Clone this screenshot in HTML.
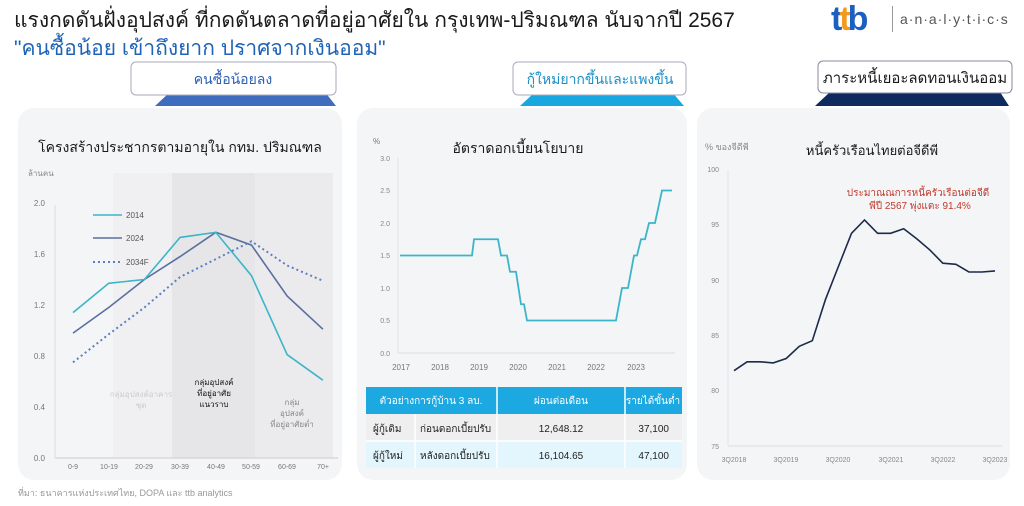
<!DOCTYPE html>
<html><head><meta charset="utf-8"><style>
body{margin:0;width:1024px;height:506px;background:#fff;overflow:hidden}
svg{display:block;font-family:"Liberation Sans","Noto Sans CJK SC",sans-serif}
</style></head><body>
<svg width="1024" height="506" viewBox="0 0 1024 506" xmlns="http://www.w3.org/2000/svg">
<!-- header -->
<text x="14" y="27" font-size="21" fill="#1a1a1a">แรงกดดันฝั่งอุปสงค์ ที่กดดันตลาดที่อยู่อาศัยใน กรุงเทพ-ปริมณฑล นับจากปี 2567</text>
<text x="14" y="55" font-size="21" fill="#1f63b8">"คนซื้อน้อย เข้าถึงยาก ปราศจากเงินออม"</text>
<text x="831" y="30" font-size="34" font-weight="bold" fill="#1b5fc0" letter-spacing="-3">t<tspan fill="#f39a1e">t</tspan>b</text>
<rect x="892" y="6" width="1" height="26" fill="#999"/>
<text x="900" y="24" font-size="14" fill="#555" letter-spacing="1">a·n·a·l·y·t·i·c·s</text>

<!-- cards -->
<rect x="18" y="108" width="324" height="372" rx="16" fill="#f4f5f7"/>
<rect x="357" y="108" width="330" height="372" rx="16" fill="#f4f5f7"/>
<rect x="697" y="108" width="313" height="372" rx="16" fill="#f4f5f7"/>

<!-- tabs -->
<polygon points="170,92 325,92 336,106 155,106" fill="#3f6cbf"/>
<rect x="131" y="62" width="205" height="33" rx="5" fill="#fff" stroke="#aab" />
<text x="233" y="84" font-size="14" fill="#2b5eb5" text-anchor="middle">คนซื้อน้อยลง</text>
<polygon points="535,92 672,92 684,106 520,106" fill="#19a7e0"/>
<rect x="513" y="62" width="173" height="33" rx="5" fill="#fff" stroke="#aab"/>
<text x="600" y="84" font-size="14" fill="#1a8fc8" text-anchor="middle">กู้ใหม่ยากขึ้นและแพงขึ้น</text>
<polygon points="830,92 1000,92 1009,106 815,106" fill="#0e2a5e"/>
<rect x="818" y="61" width="194" height="32" rx="5" fill="#fff" stroke="#889"/>
<text x="915" y="83" font-size="15" fill="#1a1a1a" text-anchor="middle">ภาระหนี้เยอะลดทอนเงินออม</text>

<!-- panel 1 -->
<text x="180" y="152" font-size="14" fill="#1a1a1a" text-anchor="middle">โครงสร้างประชากรตามอายุใน กทม. ปริมณฑล</text>
<text x="28" y="176" font-size="8" fill="#888">ล้านคน</text>
<rect x="113" y="173" width="59" height="285" fill="#f0f0f2"/>
<rect x="172" y="173" width="83" height="285" fill="#e6e6e8"/>
<rect x="255" y="173" width="78" height="285" fill="#ebebed"/>
<line x1="55" y1="458" x2="338" y2="458" stroke="#ccc"/>
<line x1="55" y1="205" x2="55" y2="458" stroke="#ddd"/>
<g font-size="8" fill="#777" text-anchor="end">
<text x="45" y="206">2.0</text><text x="45" y="257">1.6</text><text x="45" y="308">1.2</text><text x="45" y="359">0.8</text><text x="45" y="410">0.4</text><text x="45" y="461">0.0</text></g>
<g font-size="7" fill="#777" text-anchor="middle">
<text x="73" y="469">0-9</text><text x="109" y="469">10-19</text><text x="144" y="469">20-29</text><text x="180" y="469">30-39</text><text x="216" y="469">40-49</text><text x="251" y="469">50-59</text><text x="287" y="469">60-69</text><text x="323" y="469">70+</text></g>
<text x="141" y="397" font-size="8" fill="#ccc" text-anchor="middle">กลุ่มอุปสงค์อาคาร</text>
<text x="141" y="408" font-size="8" fill="#ccc" text-anchor="middle">ชุด</text>
<g font-size="8" fill="#111" text-anchor="middle"><text x="214" y="385">กลุ่มอุปสงค์</text><text x="214" y="396">ที่อยู่อาศัย</text><text x="214" y="407">แนวราบ</text></g>
<g font-size="8" fill="#888" text-anchor="middle"><text x="292" y="405">กลุ่ม</text><text x="292" y="416">อุปสงค์</text><text x="292" y="427">ที่อยู่อาศัยต่ำ</text></g>
<polyline fill="none" stroke="#5a6fa0" stroke-width="1.6" points="73,333.1 108.7,307.5 144.4,279.5 180.1,256.6 215.8,232.3 251.5,245.1 287.2,296.1 322.9,329.2"/>
<polyline fill="none" stroke="#3bb5c8" stroke-width="1.6" points="73,312.6 108.7,283.3 144.4,279.5 180.1,237.4 215.8,232.3 251.5,275.7 287.2,354.7 322.9,380.2"/>
<polyline fill="none" stroke="#5b7fc0" stroke-width="2" stroke-dasharray="2,3" points="73,362.4 108.7,334.3 144.4,307.5 180.1,277 215.8,259.1 251.5,241.3 287.2,265.5 322.9,280.8"/>
<line x1="93" y1="215" x2="122" y2="215" stroke="#3bb5c8" stroke-width="1.6"/><text x="126" y="218" font-size="8" fill="#555">2014</text>
<line x1="93" y1="238" x2="122" y2="238" stroke="#5a6fa0" stroke-width="1.6"/><text x="126" y="241" font-size="8" fill="#555">2024</text>
<line x1="93" y1="262" x2="122" y2="262" stroke="#5b7fc0" stroke-width="2" stroke-dasharray="2,3"/><text x="126" y="265" font-size="8" fill="#555">2034F</text>

<!-- panel 2 -->
<text x="373" y="144" font-size="8" fill="#777">%</text>
<text x="518" y="153" font-size="14" fill="#1a1a1a" text-anchor="middle">อัตราดอกเบี้ยนโยบาย</text>
<line x1="398" y1="353" x2="675" y2="353" stroke="#ddd"/>
<line x1="398" y1="158" x2="398" y2="353" stroke="#e4e4e4"/>
<g font-size="7" fill="#888" text-anchor="end"><text x="390" y="161">3.0</text><text x="390" y="193">2.5</text><text x="390" y="226">2.0</text><text x="390" y="258">1.5</text><text x="390" y="291">1.0</text><text x="390" y="323">0.5</text><text x="390" y="356">0.0</text></g>
<g font-size="8" fill="#777" text-anchor="middle"><text x="401" y="370">2017</text><text x="440" y="370">2018</text><text x="479" y="370">2019</text><text x="518" y="370">2020</text><text x="557" y="370">2021</text><text x="596" y="370">2022</text><text x="636" y="370">2023</text></g>
<polyline fill="none" stroke="#3bb5c8" stroke-width="1.8" points="400,255.5 472,255.5 474,239.25 498,239.25 501,255.5 507,255.5 510,271.75 516,271.75 521,304.25 524,304.25 527,320.5 616,320.5 622,288 628,288 634,255.5 637,255.5 641,239.25 645,239.25 649,223 655,223 662,190.5 672,190.5"/>
<rect x="366" y="387" width="316" height="27" fill="#1ca9e1"/>
<rect x="366" y="414" width="316" height="27" fill="#efefef"/>
<rect x="366" y="441" width="316" height="27" fill="#e3f6fd"/>
<g stroke="#fff" stroke-width="1.5"><line x1="497" y1="387" x2="497" y2="468"/><line x1="625" y1="387" x2="625" y2="468"/><line x1="415" y1="414" x2="415" y2="468"/><line x1="366" y1="441" x2="682" y2="441"/></g>
<g font-size="10" fill="#fff" text-anchor="middle"><text x="431" y="404">ตัวอย่างการกู้บ้าน 3 ลบ.</text><text x="561" y="404">ผ่อนต่อเดือน</text><text x="653" y="404">รายได้ขั้นต่ำ</text></g>
<g font-size="10" fill="#222"><text x="373" y="432">ผู้กู้เดิม</text><text x="420" y="432">ก่อนดอกเบี้ยปรับ</text><text x="561" y="432" text-anchor="middle">12,648.12</text><text x="669" y="432" text-anchor="end">37,100</text>
<text x="373" y="459">ผู้กู้ใหม่</text><text x="420" y="459">หลังดอกเบี้ยปรับ</text><text x="561" y="459" text-anchor="middle">16,104.65</text><text x="669" y="459" text-anchor="end">47,100</text></g>

<!-- panel 3 -->
<text x="705" y="150" font-size="9" fill="#888">% ของจีดีพี</text>
<text x="872" y="155" font-size="13" fill="#1a1a1a" text-anchor="middle">หนี้ครัวเรือนไทยต่อจีดีพี</text>
<line x1="728" y1="446" x2="1002" y2="446" stroke="#ddd"/>
<line x1="728" y1="170" x2="728" y2="446" stroke="#e4e4e4"/>
<g font-size="7" fill="#888" text-anchor="end"><text x="719" y="172">100</text><text x="719" y="227">95</text><text x="719" y="283">90</text><text x="719" y="338">85</text><text x="719" y="393">80</text><text x="719" y="449">75</text></g>
<g font-size="7" fill="#888" text-anchor="middle"><text x="734" y="462">3Q2018</text><text x="786" y="462">3Q2019</text><text x="838" y="462">3Q2020</text><text x="891" y="462">3Q2021</text><text x="943" y="462">3Q2022</text><text x="995" y="462">3Q2023</text></g>
<polyline fill="none" stroke="#1c2b4a" stroke-width="1.6" points="734,370.7 747.1,361.8 760.1,361.8 773.2,362.9 786.2,358.5 799.3,346.3 812.3,340.7 825.4,299.7 838.4,266.5 851.5,233.3 864.5,220 877.6,233.3 890.6,233.3 903.7,228.8 916.7,238.8 929.8,249.9 942.8,263.2 955.9,264.3 968.9,272 982,272 995,270.9"/>
<text x="918" y="196" font-size="10" fill="#c0392b" text-anchor="middle">ประมาณณการหนี้ครัวเรือนต่อจีดี</text>
<text x="920" y="209" font-size="10" fill="#c0392b" text-anchor="middle">พีปี 2567 พุ่งแตะ 91.4%</text>

<text x="18" y="496" font-size="9" fill="#999">ที่มา: ธนาคารแห่งประเทศไทย, DOPA และ ttb analytics</text>
</svg>
</body></html>
